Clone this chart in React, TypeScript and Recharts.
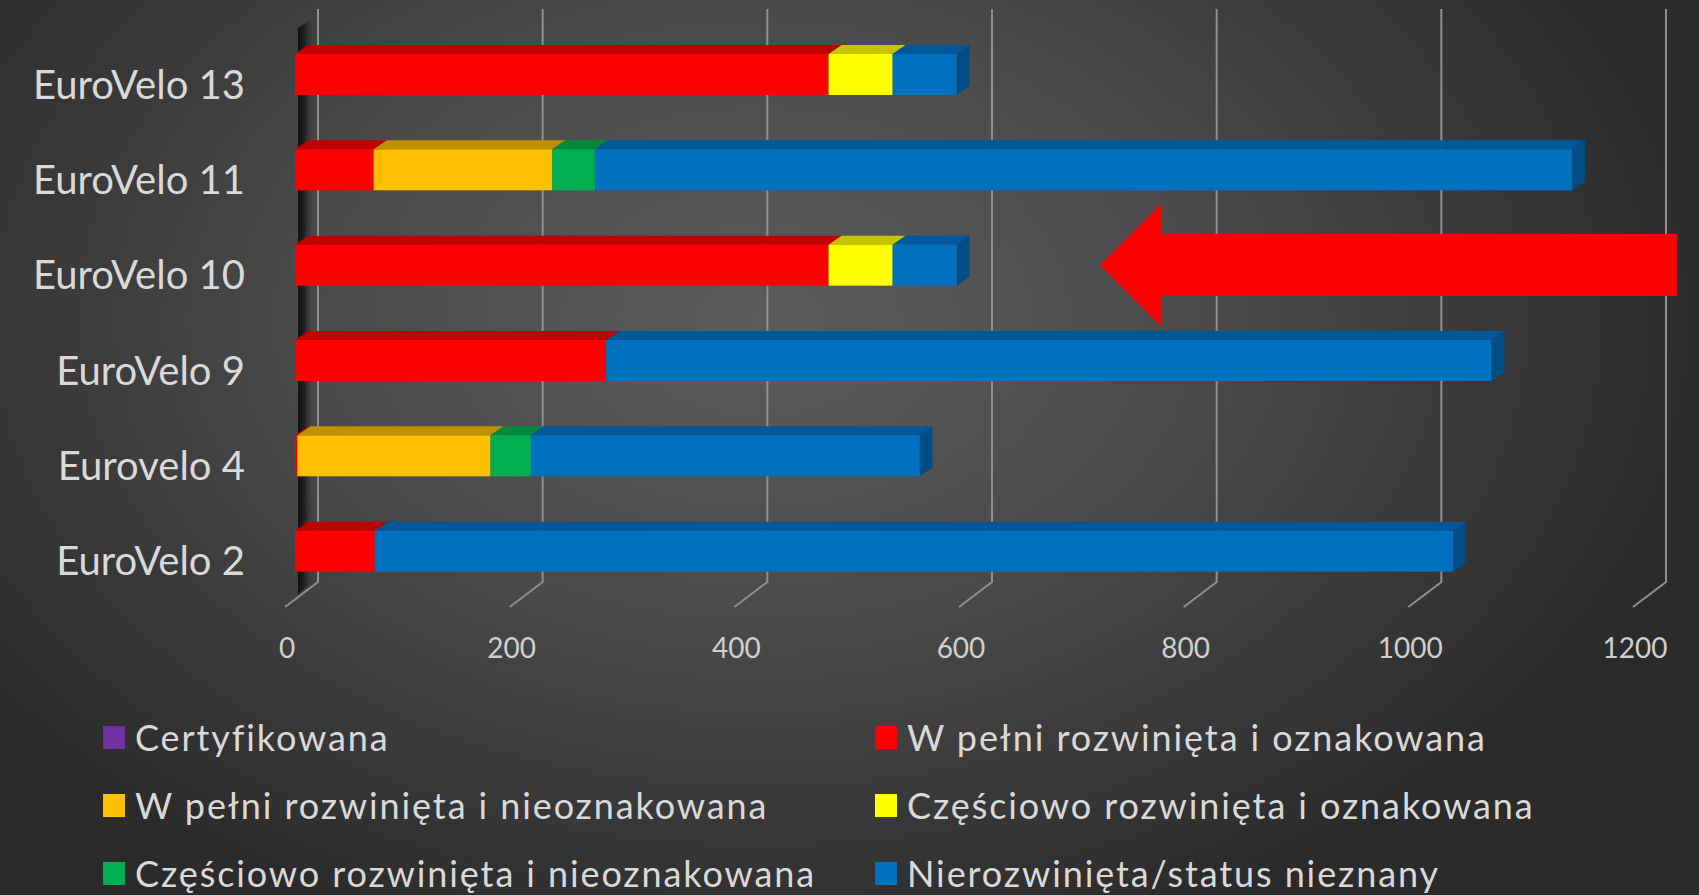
import React from 'react'
import { BarChart, Bar, XAxis, YAxis, CartesianGrid, Legend } from 'recharts'

const routes = ['EuroVelo 13', 'EuroVelo 11', 'EuroVelo 10', 'EuroVelo 9', 'Eurovelo 4', 'EuroVelo 2']
const certified = [0, 0, 0, 0, 0, 0]
const fullMarked = [475, 70, 475, 277, 2, 71]
const fullUnmarked = [0, 159, 0, 0, 172, 0]
const partMarked = [57, 0, 57, 0, 0, 0]
const partUnmarked = [0, 38, 0, 0, 36, 0]
const unknown = [57, 870, 57, 788, 346, 960]
const xTicks = [0, 200, 400, 600, 800, 1000, 1200]

const SERIES = [
  { key: 'certified', name: 'Certyfikowana', values: certified, color: '#7030A0', top: '#54247A', side: '#4A1F6B' },
  { key: 'fullMarked', name: 'W pełni rozwinięta i oznakowana', values: fullMarked, color: '#FF0000', top: '#C00000', side: '#A80000' },
  { key: 'fullUnmarked', name: 'W pełni rozwinięta i nieoznakowana', values: fullUnmarked, color: '#FFC000', top: '#BF9000', side: '#A67D00' },
  { key: 'partMarked', name: 'Częściowo rozwinięta i oznakowana', values: partMarked, color: '#FFFF00', top: '#C4C400', side: '#A8A800' },
  { key: 'partUnmarked', name: 'Częściowo rozwinięta i nieoznakowana', values: partUnmarked, color: '#00B050', top: '#008A3E', side: '#007535' },
  { key: 'unknown', name: 'Nierozwinięta/status nieznany', values: unknown, color: '#0070C0', top: '#00589A', side: '#004C87' },
]

const data = routes.map((route, i) => {
  const row: Record<string, string | number> = { route }
  SERIES.forEach(s => { row[s.key] = s.values[i] })
  return row
})

const W = 1699
const H = 895
// 3d depth of the bars
const DX = 13
const DY = 9
const TEXT = '#d9d9d9'
const FONT = 'Lato, "Open Sans", sans-serif'

function Box3D(props: any) {
  const { x, y, width, height, fill, top, side } = props
  if (!width || width <= 0) return null
  const r = x + width
  const b = y + height
  return (
    <g>
      <polygon points={`${x},${y} ${x + DX},${y - DY} ${r + DX},${y - DY} ${r},${y}`} fill={top} />
      <polygon points={`${r},${y} ${r + DX},${y - DY} ${r + DX},${b - DY} ${r},${b}`} fill={side} />
      <rect x={x} y={y} width={width} height={height} fill={fill} />
    </g>
  )
}

function GridLine(props: any) {
  const { x1, index } = props
  const bx = x1 + 23
  return (
    <g key={`grid-${index}`}>
      {index === 0 && (
        <polygon points={`${bx - 20},28 ${bx - 5},18 ${bx - 5},582 ${bx - 20},594`} fill="url(#wallShade)" />
      )}
      <polyline points={`${bx},9 ${bx},582 ${x1 - 10},607`} stroke="#8f8f8f" strokeWidth={2} fill="none" />
    </g>
  )
}

function RouteTick(props: any) {
  const { y, payload } = props
  return (
    <text x={245} y={y + 24} textAnchor="end" fill={TEXT} fontSize={40} fontFamily={FONT}>
      {payload.value}
    </text>
  )
}

function ValueTick(props: any) {
  const { x, payload } = props
  return (
    <text x={x - 8} y={658} textAnchor="middle" fill="#cfcfcf" fontSize={28} fontFamily={FONT}>
      {payload.value}
    </text>
  )
}

function LegendBox(props: any) {
  const order = (v: string) => SERIES.findIndex(s => s.name === v)
  const items = [...(props.payload || [])].sort((a: any, b: any) => order(a.value) - order(b.value))
  return (
    <div style={{ display: 'grid', gridTemplateColumns: '772px auto', paddingLeft: 103 }}>
      {items.map((it: any) => (
        <div key={it.value} style={{ display: 'flex', alignItems: 'center', height: 68 }}>
          <span style={{ width: 22, height: 23, background: it.color, marginRight: 10, flex: 'none' }} />
          <span style={{ color: TEXT, fontSize: 36, fontFamily: FONT, letterSpacing: 1.9, whiteSpace: 'nowrap' }}>{it.value}</span>
        </div>
      ))}
    </div>
  )
}

export default function App() {
  return (
    <div
      style={{
        position: 'absolute', left: 0, top: 0, width: W, height: H, overflow: 'hidden',
        background: 'radial-gradient(ellipse 950px 650px at 760px 320px, #5c5c5c 0%, #4b4b4b 45%, #2b2b2b 100%)',
      }}
    >
      <BarChart
        width={W}
        height={H}
        data={data}
        layout="vertical"
        margin={{ top: 27, right: 56, bottom: 266, left: 25 }}
        barSize={41}
      >
        <defs>
          <linearGradient id="wallShade" x1="0" y1="0" x2="1" y2="0">
            <stop offset="0%" stopColor="#0d0d0d" stopOpacity={0.9} />
            <stop offset="40%" stopColor="#181818" stopOpacity={0.85} />
            <stop offset="100%" stopColor="#333" stopOpacity={0} />
          </linearGradient>
        </defs>
        <CartesianGrid horizontal={false} vertical={GridLine} />
        <XAxis
          type="number"
          domain={[0, 1200]}
          ticks={xTicks}
          height={30}
          axisLine={false}
          tickLine={false}
          tick={<ValueTick />}
          interval={0}
        />
        <YAxis
          type="category"
          dataKey="route"
          width={270}
          axisLine={false}
          tickLine={false}
          tick={<RouteTick />}
          interval={0}
        />
        <Legend
          layout="vertical"
          align="center"
          verticalAlign="middle"
          content={<LegendBox />}
          wrapperStyle={{ left: 0, top: 703, width: W }}
        />
        {SERIES.map(s => (
          <Bar
            key={s.key}
            dataKey={s.key}
            name={s.name}
            stackId="a"
            fill={s.color}
            isAnimationActive={false}
            shape={(p: any) => <Box3D {...p} top={s.top} side={s.side} />}
          />
        ))}
      </BarChart>
      <svg width={W} height={H} style={{ position: 'absolute', left: 0, top: 0, pointerEvents: 'none' }}>
        <polygon points="1100,265 1162,203 1162,234 1677,234 1677,296 1162,296 1162,327" fill="#FF0000" />
      </svg>
    </div>
  )
}
